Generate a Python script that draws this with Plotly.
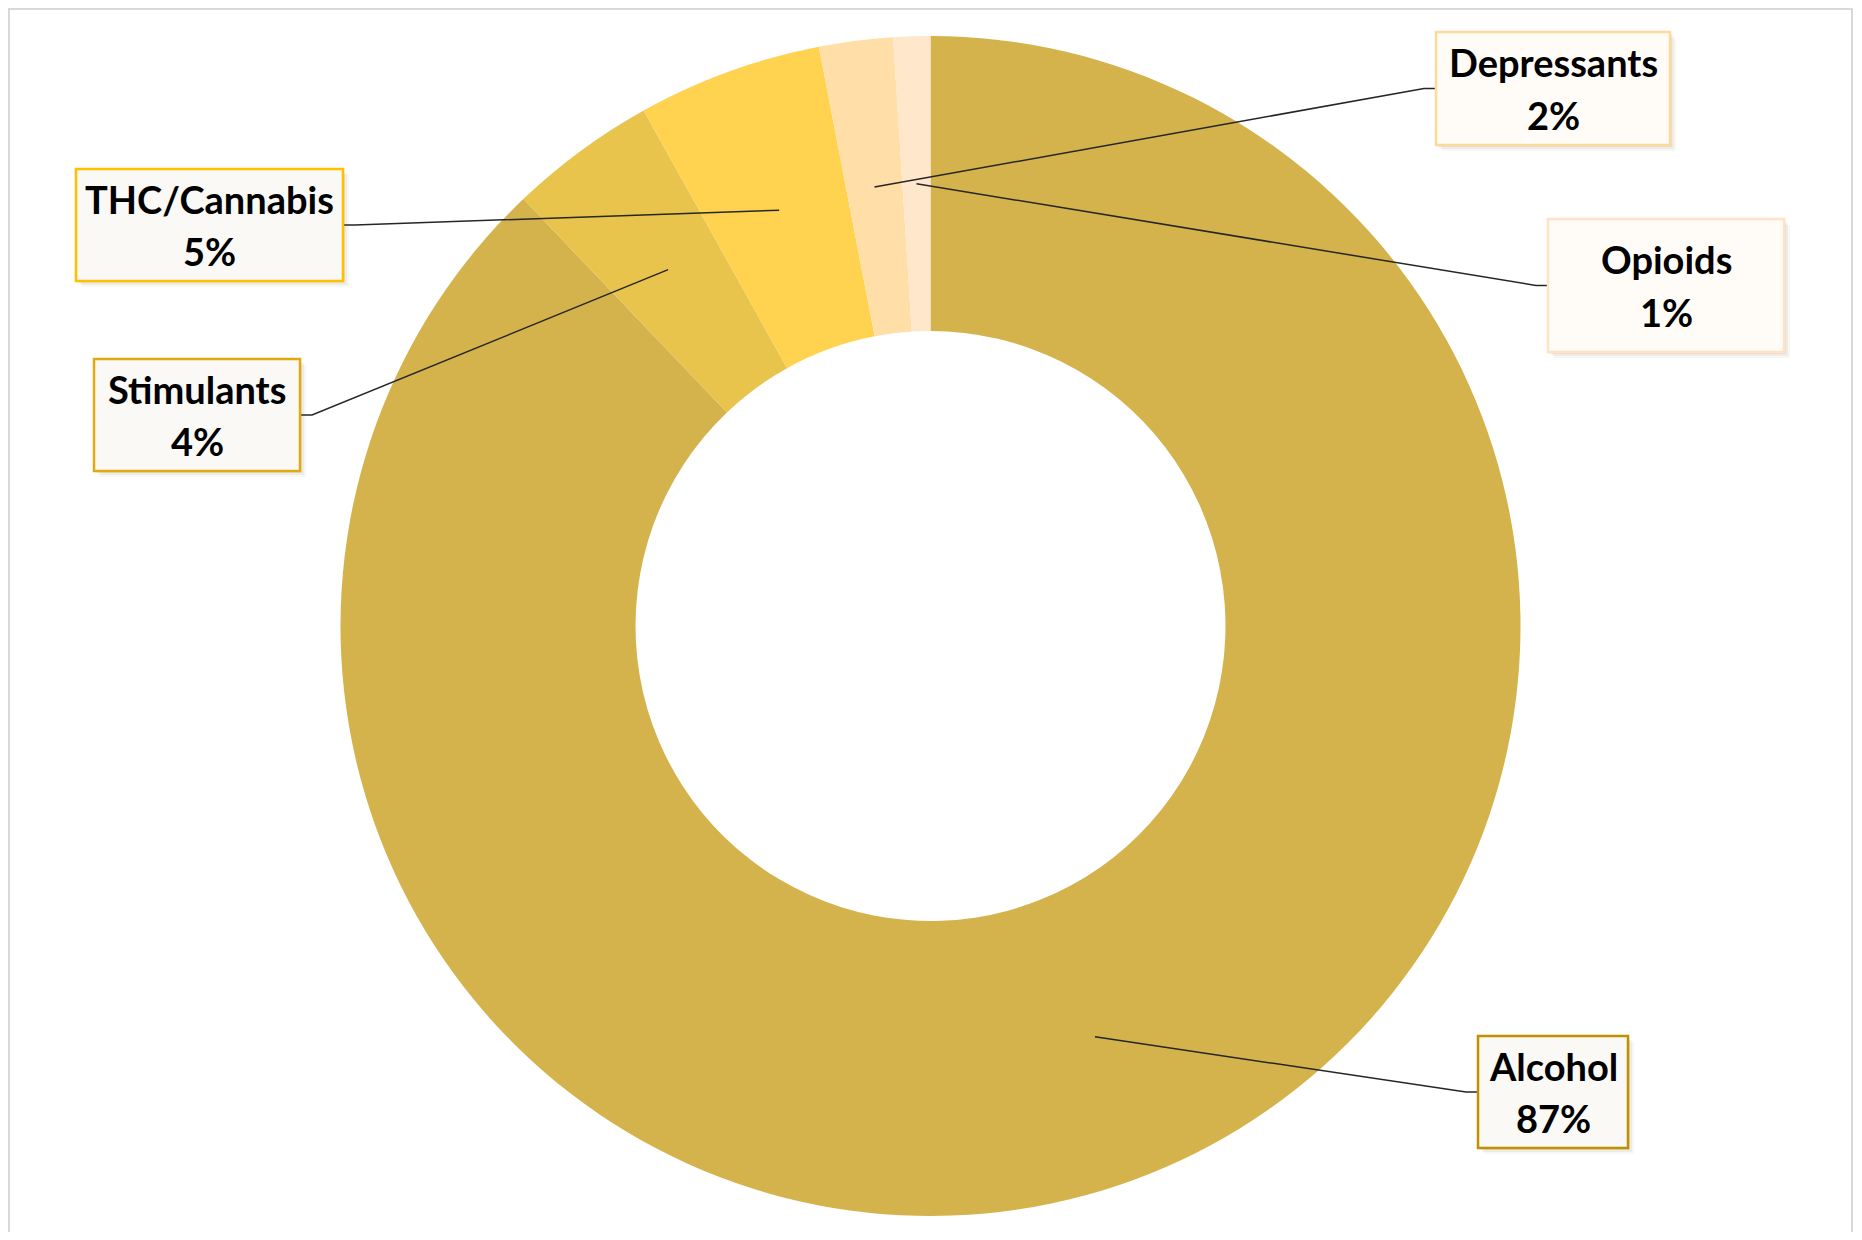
import math
import plotly.graph_objects as go

# ---------------- data ----------------
categories = ["Alcohol", "Stimulants", "THC/Cannabis", "Depressants", "Opioids"]
values = [87, 4, 5, 2, 1]
pct_labels = [f"{v}%" for v in values]

# ---------------- styles ----------------
slice_colors = ["#D4B24C", "#E9C44C", "#FFD34F", "#FFDEA8", "#FFE7CC"]
box_border = ["#BF9000", "#E0AA10", "#FFC000", "#FFD99A", "#FFE3C4"]
box_fill = ["#FAF9F5", "#FAF9F5", "#FAF9F5", "#FFFCF7", "#FFFCF8"]

W, H = 1846, 1224      # figure size (page body has an 8px margin)
OFF = 8
CX, CY = 930.5 - OFF, 626 - OFF
R_OUT = 590
HOLE = 0.5
FONT = "Lato"
FSIZE = 38

# callout boxes in window pixels: x0, y0, x1, y1 and side of the leader line
boxes = [
    (1478, 1036, 1628, 1148, "left"),
    (94, 359, 300, 471, "right"),
    (76, 169, 343, 281, "right"),
    (1436, 32, 1670, 145, "left"),
    (1548, 219, 1784, 352, "left"),
]


def px(x):
    return (x - OFF) / W


def py(y):
    return 1 - (y - OFF) / H


fig = go.Figure()
fig.add_trace(go.Pie(
    labels=categories, values=values, sort=False, direction="clockwise",
    rotation=0, hole=HOLE, textinfo="none", hoverinfo="label+percent",
    marker=dict(colors=slice_colors, line=dict(width=0)),
    showlegend=False,
    domain=dict(x=[(CX - R_OUT) / W, (CX + R_OUT) / W],
                y=[(H - CY - R_OUT) / H, (H - CY + R_OUT) / H]),
))

shapes = []
annotations = []

# frame
shapes.append(dict(type="rect", xref="paper", yref="paper",
                   x0=px(9), x1=px(1852), y0=-0.02, y1=py(9),
                   line=dict(color="#D9D9D9", width=2), fillcolor="rgba(0,0,0,0)"))

total = sum(values)
cum = 0
r_mid = R_OUT * (1 + HOLE) / 2
for i, (cat, v) in enumerate(zip(categories, values)):
    mid = (cum + v / 2) / total * 2 * math.pi
    cum += v
    ax = CX + OFF + r_mid * math.sin(mid)
    ay = CY + OFF - r_mid * math.cos(mid)
    x0, y0, x1, y1, side = boxes[i]
    bcy = (y0 + y1) / 2
    if side == "left":
        ex, sx = x0, x0 - 12
    else:
        ex, sx = x1, x1 + 12
    # leader line
    shapes.append(dict(type="path", xref="paper", yref="paper",
                       path=f"M {px(ax)},{py(ay)} L {px(sx)},{py(bcy)} L {px(ex)},{py(bcy)}",
                       line=dict(color="#262626", width=1.5)))
    # soft shadow
    for k, a in [(6, 0.05), (4, 0.07), (2, 0.09)]:
        shapes.append(dict(type="rect", xref="paper", yref="paper",
                           x0=px(x0 + k), x1=px(x1 + k), y0=py(y1 + k), y1=py(y0 + k),
                           line=dict(width=0), fillcolor=f"rgba(120,100,40,{a})"))
    shapes.append(dict(type="rect", xref="paper", yref="paper",
                       x0=px(x0), x1=px(x1), y0=py(y1), y1=py(y0),
                       line=dict(color=box_border[i], width=2.5), fillcolor=box_fill[i]))
    bcx = (x0 + x1) / 2
    annotations.append(dict(xref="paper", yref="paper", x=px(bcx), y=py(bcy - 26),
                            text=f"<b>{cat}</b>", showarrow=False,
                            xanchor="center", yanchor="middle",
                            font=dict(family=FONT, size=FSIZE, color="#000000")))
    annotations.append(dict(xref="paper", yref="paper", x=px(bcx), y=py(bcy + 26),
                            text=f"<b>{pct_labels[i]}</b>", showarrow=False,
                            xanchor="center", yanchor="middle",
                            font=dict(family=FONT, size=FSIZE, color="#000000")))

fig.update_layout(
    width=W, height=H, autosize=False,
    margin=dict(l=0, r=0, t=0, b=0),
    paper_bgcolor="#FFFFFF", plot_bgcolor="#FFFFFF",
    shapes=shapes, annotations=annotations,
)

fig.write_html("out.html")
